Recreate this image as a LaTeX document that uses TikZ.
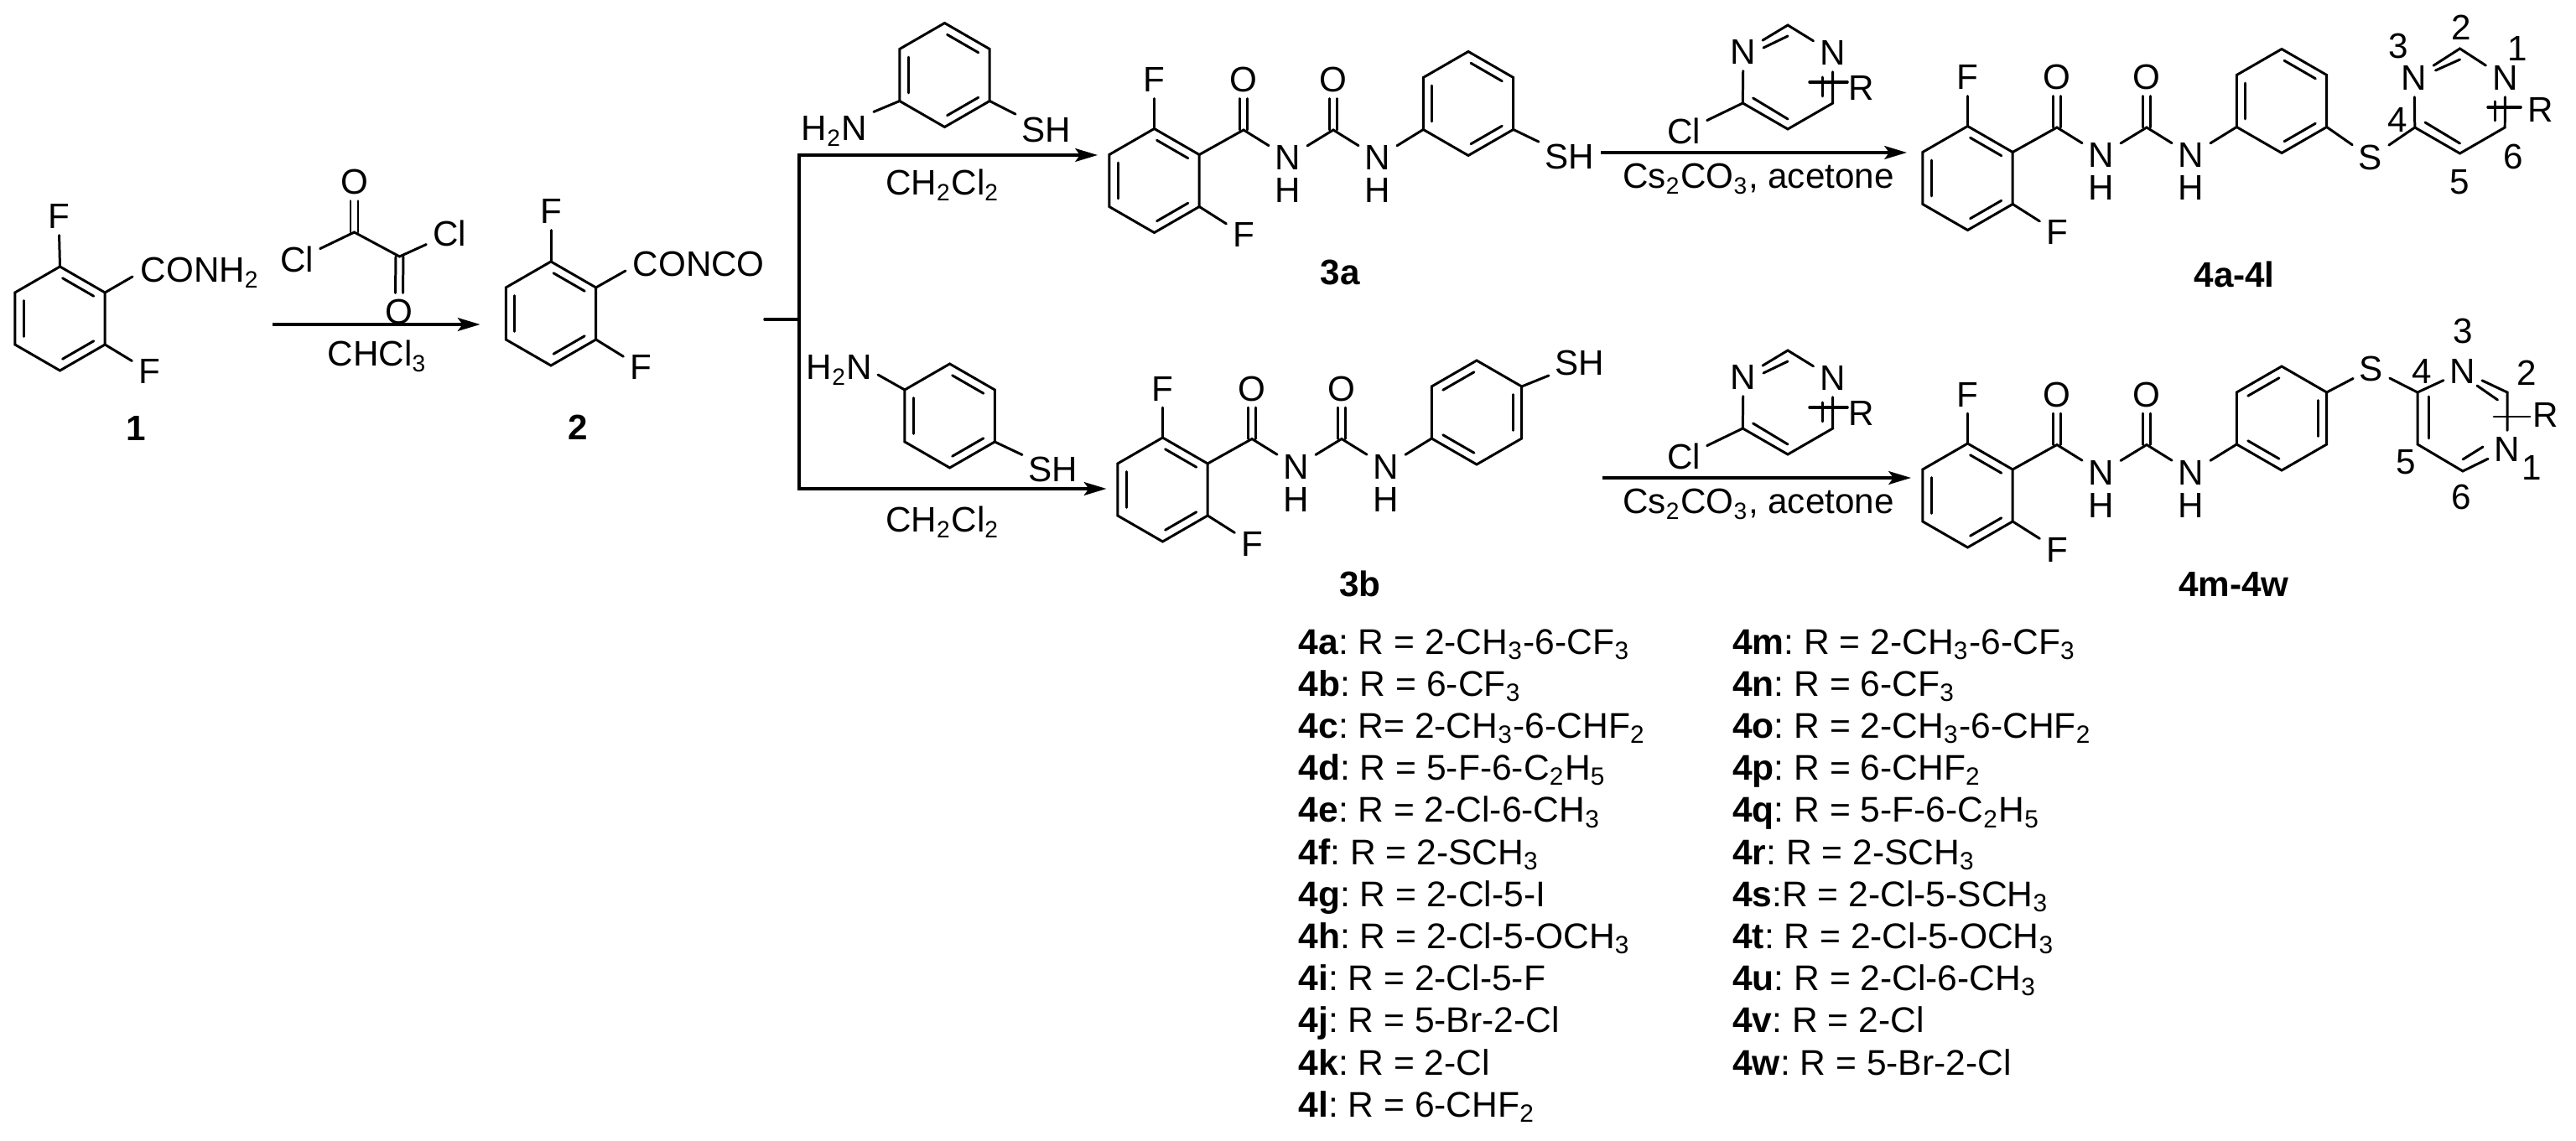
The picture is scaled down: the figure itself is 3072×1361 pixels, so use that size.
\documentclass[tikz,border=0pt]{standalone}
\usepackage{fontspec}
\setmainfont{Liberation Sans}
\usepackage{tikz}
\usetikzlibrary{arrows.meta, positioning}

\newcommand{\sbs}[1]{\textsubscript{#1}}

\tikzset{
	atom/.style={font=\fontsize{12}{14}\selectfont\frenchspacing, inner sep=2pt, text height=8.5pt, text depth=0pt},
	cpd/.style={atom, font=\fontsize{12}{14}\selectfont\bfseries},
	lstline/.style={font=\fontsize{12.1}{14}\selectfont\frenchspacing, inner sep=0pt, anchor=base west},
	bond/.style={line width=0.85pt, line cap=round},
	inbond/.style={bond, shorten <=1pt, shorten >=1pt},
	rxn/.style={-{Stealth[length=7.6pt, width=4.5pt, inset=1.6pt]}, line width=1pt},
}

% ring centre, angle of first double bond, name
\newcommand{\benzring}[3]{
	\begin{scope}[shift={(#1)}]
		\foreach \a [count=\i] in {-90,-30,30,90,150,210}
			\coordinate (#3\i) at (\a:62);
		\draw[bond] (#31) -- (#32) -- (#33) -- (#34) -- (#35) -- (#36) -- cycle;
		\foreach \k in {0,1,2}
			\draw[inbond] ({#2+\k*120-30}:50) -- ({#2+\k*120+30}:50);
	\end{scope}
}

% difluorobenzoyl urea: x, y of ring, name, angle for the far ring
\newcommand{\aroylurea}[4]{
	\begin{scope}[shift={(#1,#2)}]
		\benzring{0,0}{-60}{#3a}
		\benzring{374.5,-92}{#4}{#3b}
		\node at (0,-120.5) (#3fa) [atom] {F};
		\node at (106.5,64.5) (#3fb) [atom] {F};
		\coordinate (#3ca) at (106.5,-60.5);
		\coordinate (#3cb) at (213.5,-60.5);
		\node at (106.5,-120.5) (#3oa) [atom] {O};
		\node at (213.5,-120.5) (#3ob) [atom] {O};
		\node at (159.5,-27.5) (#3na) [atom] {N};
		\node at (159.5,11.5) (#3ha) [atom] {H};
		\node at (266.5,-27.5) (#3nb) [atom] {N};
		\node at (266.5,11.5) (#3hb) [atom] {H};
		\draw[bond] (#3a1) -- (#3fa);
		\draw[bond] (#3a3) -- (#3fb);
		\draw[bond] (#3a2) -- (#3ca) -- (#3na) -- (#3cb) -- (#3nb) -- (#3b5);
		\foreach \s in {-4.5,4.5} {
			\draw[bond] ([xshift=\s*0.01cm]#3ca) -- ([xshift=\s*0.01cm]#3oa.south);
			\draw[bond] ([xshift=\s*0.01cm]#3cb) -- ([xshift=\s*0.01cm]#3ob.south);
		}
	\end{scope}
}

% chloropyrimidine reagent: x, y of ring, name
\newcommand{\clpyrim}[3]{
	\begin{scope}[shift={(#1,#2)}]
		\node at (-53,-30) (#3nc) [atom] {N};
		\node at (53.5,-29) (#3na) [atom] {N};
		\coordinate (#3cb) at (0,-62);
		\coordinate (#3cd) at (-53.7,31);
		\coordinate (#3ce) at (0,62);
		\coordinate (#3cf) at (53.7,31);
		\coordinate (#3sa) at (26,6);
		\coordinate (#3sb) at (71,6);
		\node at (88,13) (#3r) [atom] {R};
		\node at (-124,65) (#3cl) [atom] {Cl};
		\draw[bond] (#3nc) -- (#3cb) -- (#3na) -- (#3cf) -- (#3ce) -- (#3cd) -- (#3nc);
		\draw[bond] (#3cd) -- (#3cl);
		\draw[bond] (-29,-35) -- (0,-49);
		\draw[bond] (41,0) -- (41,23);
		\draw[bond] (-41.4,25) -- (0,50);
		\draw[bond, line width=1pt] (#3sa) -- (#3sb);
	\end{scope}
}

\begin{document}
\begin{tikzpicture}[x=0.01cm, y=-0.01cm]
	\useasboundingbox (0,0) rectangle (3072,1361);

	% 1
	\benzring{71.5,380}{-60}{ra}
	\node at (70,258) (fa) [atom] {F};
	\node at (178,443) (fb) [atom] {F};
	\node at (160,322) (conh) [atom, anchor=west] {CONH\sbs{2}};
	\coordinate (conhb) at (158,330);
	\draw[bond] (ra1) -- (fa);
	\draw[bond] (ra3) -- (fb);
	\draw[bond] (ra2) -- (conhb);
	\node at (162,511) (cpda) [cpd] {1};

	% oxalyl chloride
	\coordinate (oxa) at (422.5,277);
	\coordinate (oxb) at (476.5,306);
	\node at (422.5,217) (oxoa) [atom] {O};
	\node at (476,372) (oxob) [atom] {O};
	\node at (354,310) (oxcla) [atom] {Cl};
	\node at (536,279) (oxclb) [atom] {Cl};
	\draw[bond] (oxcla) -- (oxa) -- (oxb) -- (oxclb);
	\foreach \s in {-4.5,4.5} {
		\draw[bond] ([xshift=\s*0.01cm]oxa) -- ([xshift=\s*0.01cm]oxoa.south);
		\draw[bond] ([xshift=\s*0.01cm]oxb) -- ([xshift=\s*0.01cm]oxob.north);
	}
	\coordinate (rxas) at (324.5,387);
	\coordinate (rxae) at (572.6,387);
	\draw[rxn] (rxas) -- (rxae);
	\node at (450,422) (chcl) [atom] {CHCl\sbs{3}};

	% 2
	\benzring{657,374}{-60}{rb}
	\node at (657,252) (fc) [atom] {F};
	\node at (764,438) (fd) [atom] {F};
	\node at (747,315) (conco) [atom, anchor=west] {CONCO};
	\coordinate (concob) at (746,323);
	\draw[bond] (rb1) -- (fc);
	\draw[bond] (rb3) -- (fd);
	\draw[bond] (rb2) -- (concob);
	\node at (689,510) (cpdb) [cpd] {2};

	% branch
	\coordinate (brs) at (912,381);
	\coordinate (brm) at (953,381);
	\coordinate (tipa) at (1309,185);
	\coordinate (tipb) at (1319.5,583);
	\draw[bond, line width=1pt] (brs) -- (brm);
	\draw[rxn] (brm) |- (tipa);
	\draw[rxn] (brm) |- (tipb);

	% meta aminothiophenol
	\benzring{1126.5,89.5}{-60}{rc}
	\node at (995,153) (hna) [atom] {H\sbs{2}N};
	\node at (1248,155) (sha) [atom] {SH};
	\draw[bond] (rc5) -- (hna);
	\draw[bond] (rc3) -- (sha);
	\node at (1124,218) (dcma) [atom] {CH\sbs{2}Cl\sbs{2}};

	% para aminothiophenol
	\benzring{1132.6,496}{-60}{rd}
	\node at (1001,438) (hnb) [atom] {H\sbs{2}N};
	\coordinate (hnbb) at (1047,447);
	\node at (1256,560) (shb) [atom] {SH};
	\draw[bond] (rd6) -- (hnbb);
	\draw[bond] (rd3) -- (shb);
	\node at (1124,620) (dcmb) [atom] {CH\sbs{2}Cl\sbs{2}};

	% 3a
	\aroylurea{1376.5}{215.5}{ua}{-60}
	\node at (1872,187) (shc) [atom] {SH};
	\draw[bond] (uab3) -- (shc);
	\node at (1598,325) (cpdc) [cpd] {3a};

	% 3b
	\aroylurea{1386.5}{584}{ub}{0}
	\node at (1884,433) (shd) [atom] {SH};
	\draw[bond] (ubb2) -- (shd);
	\node at (1622,697) (cpdd) [cpd] {3b};

	% reagents and arrows to 4
	\clpyrim{2132}{92}{pa}
	\clpyrim{2132}{480}{pb}
	\coordinate (rxbs) at (1909,182);
	\coordinate (rxbe) at (2274,182);
	\coordinate (rxcs) at (1911,570);
	\coordinate (rxce) at (2279,570);
	\draw[rxn] (rxbs) -- (rxbe);
	\draw[rxn] (rxcs) -- (rxce);
	\node at (2097,210) (csa) [atom] {Cs\sbs{2}CO\sbs{3}, acetone};
	\node at (2097,598) (csb) [atom] {Cs\sbs{2}CO\sbs{3}, acetone};

	% 4a-4l
	\aroylurea{2346.5}{212.5}{uc}{-60}
	\node at (2827,188) (sa) [atom] {S};
	\draw[bond] (ucb3) -- (sa);
	\node at (2879,93) (qnc) [atom] {N};
	\node at (2987.4,93) (qna) [atom] {N};
	\coordinate (qcb) at (2933.5,58);
	\coordinate (qcd) at (2879.8,152);
	\coordinate (qce) at (2933.5,183);
	\coordinate (qcf) at (2987.2,152);
	\coordinate (qsa) at (2967,128);
	\coordinate (qsb) at (3006,128);
	\node at (3030,131) (qr) [atom] {R};
	\draw[bond] (sa) -- (qcd) -- (qnc) -- (qcb) -- (qna) -- (qcf) -- (qce) -- (qcd);
	\draw[bond] (2904.5,84) -- (2933.5,71);
	\draw[bond] (2975,121) -- (2975,144);
	\draw[bond] (2892,146) -- (2933.5,171);
	\draw[bond, line width=1pt] (qsa) -- (qsb);
	\node at (2860,55) (na) [atom] {3};
	\node at (2935,33) (nb) [atom] {2};
	\node at (3002,58) (nc) [atom] {1};
	\node at (2859,143) (nd) [atom] {4};
	\node at (2997,187) (ne) [atom] {6};
	\node at (2933,217) (nf) [atom] {5};
	\node at (2664.6,328) (cpde) [cpd] {4a-4l};

	% 4m-4w
	\aroylurea{2346.5}{591}{ud}{0}
	\node at (2828,440) (sb) [atom] {S};
	\draw[bond] (udb2) -- (sb);
	\node at (2937,443) (snc) [atom] {N};
	\node at (2990,536) (sna) [atom] {N};
	\coordinate (scb) at (2990,468);
	\coordinate (scd) at (2883,468);
	\coordinate (sce) at (2883,530);
	\coordinate (scf) at (2937,562);
	\coordinate (ssa) at (2974,497);
	\coordinate (ssb) at (3017,497);
	\node at (3036,495) (sr) [atom] {R};
	\draw[bond] (sb) -- (scd) -- (snc) -- (scb) -- (sna) -- (scf) -- (sce) -- (scd);
	\draw[bond] (2954,460) -- (2978.5,477);
	\draw[bond] (2896,473) -- (2896,523);
	\draw[bond] (2937,548) -- (2961,533);
	\draw[bond] (ssa) -- (ssb);
	\node at (2937,395) (ma) [atom] {3};
	\node at (2888,443) (mb) [atom] {4};
	\node at (3013.6,445) (mc) [atom] {2};
	\node at (2869,551) (md) [atom] {5};
	\node at (3019,558) (me) [atom] {1};
	\node at (2935,593) (mf) [atom] {6};
	\node at (2664,697) (cpdf) [cpd] {4m-4w};

	% substituent lists
	\foreach \id/\txt [count=\i from 0] in {
		4a/: R = 2-CH\sbs{3}-6-CF\sbs{3},
		4b/: R = 6-CF\sbs{3},
		4c/: R= 2-CH\sbs{3}-6-CHF\sbs{2},
		4d/: R = 5-F-6-C\sbs{2}H\sbs{5},
		4e/: R = 2-Cl-6-CH\sbs{3},
		4f/: R = 2-SCH\sbs{3},
		4g/: R = 2-Cl-5-I,
		4h/: R = 2-Cl-5-OCH\sbs{3},
		4i/: R = 2-Cl-5-F,
		4j/: R = 5-Br-2-Cl,
		4k/: R = 2-Cl,
		4l/: R = 6-CHF\sbs{2}}
		\node at (1548,{780+50.2*\i}) (lst\id) [lstline] {\textbf{\id}\txt};
	\foreach \id/\txt [count=\i from 0] in {
		4m/: R = 2-CH\sbs{3}-6-CF\sbs{3},
		4n/: R = 6-CF\sbs{3},
		4o/: R = 2-CH\sbs{3}-6-CHF\sbs{2},
		4p/: R = 6-CHF\sbs{2},
		4q/: R = 5-F-6-C\sbs{2}H\sbs{5},
		4r/: R = 2-SCH\sbs{3},
		4s/:R = 2-Cl-5-SCH\sbs{3},
		4t/: R = 2-Cl-5-OCH\sbs{3},
		4u/: R = 2-Cl-6-CH\sbs{3},
		4v/: R = 2-Cl,
		4w/: R = 5-Br-2-Cl}
		\node at (2065.6,{780+50.2*\i}) (lst\id) [lstline] {\textbf{\id}\txt};
\end{tikzpicture}
\end{document}
